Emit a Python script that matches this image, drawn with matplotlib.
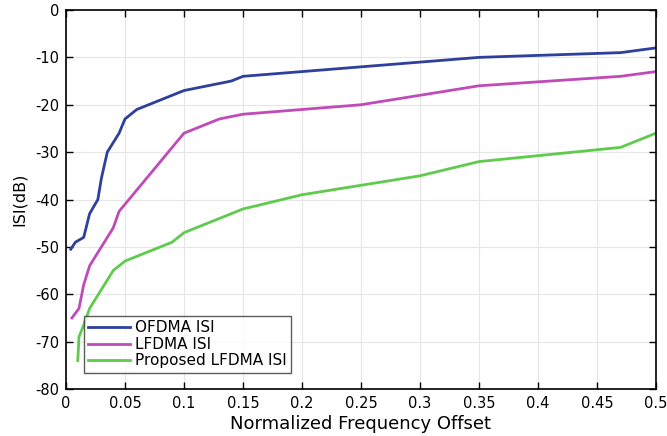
import matplotlib
matplotlib.use("Agg")
import matplotlib.pyplot as plt

plt.rcParams['font.family'] = ['DejaVu Sans']
plt.rcParams['axes.unicode_minus'] = False

ofdma_x = [0.004, 0.008, 0.015, 0.02, 0.027, 0.03, 0.035, 0.045, 0.05, 0.06, 0.1, 0.14, 0.15, 0.2, 0.25, 0.3, 0.35, 0.47, 0.5]
ofdma_y = [-50.5, -49, -48, -43, -40, -35.5, -30, -26, -23, -21, -17, -15, -14, -13, -12, -11, -10, -9, -8]

lfdma_x = [0.005, 0.011, 0.015, 0.02, 0.04, 0.045, 0.05, 0.1, 0.13, 0.15, 0.25, 0.3, 0.35, 0.47, 0.5]
lfdma_y = [-65, -63, -58, -54, -46, -42.5, -41, -26, -23, -22, -20, -18, -16, -14, -13]

prop_x = [0.01, 0.011, 0.015, 0.02, 0.04, 0.05, 0.09, 0.1, 0.15, 0.2, 0.3, 0.35, 0.47, 0.5]
prop_y = [-74, -69, -66.5, -63, -55, -53, -49, -47, -42, -39, -35, -32, -29, -26]

labels = ['OFDMA ISI', 'LFDMA ISI', 'Proposed LFDMA ISI']
colors = ['#2e3f9c', '#c04ab8', '#5fcb4c']
xticks = [0, 0.05, 0.1, 0.15, 0.2, 0.25, 0.3, 0.35, 0.4, 0.45, 0.5]
xticklabels = ['0', '0.05', '0.1', '0.15', '0.2', '0.25', '0.3', '0.35', '0.4', '0.45', '0.5']
yticks = list(range(-80, 1, 10))

fig = plt.figure(figsize=(6.67, 4.36), dpi=100)
ax = fig.add_axes([66/667, 1 - 389/436, 590/667, 379/436])

for xs, ys, lab, c in zip([ofdma_x, lfdma_x, prop_x], [ofdma_y, lfdma_y, prop_y], labels, colors):
    ax.plot(xs, ys, color=c, lw=2, label=lab)

ax.set_xlim(0, 0.5)
ax.set_ylim(-80, 0)
ax.set_xticks(xticks)
ax.set_xticklabels(xticklabels)
ax.set_yticks(yticks)
ax.grid(True, color='#e6e6e6', lw=0.8)
ax.set_axisbelow(True)
ax.tick_params(direction='in', top=True, right=True, length=5, width=1, labelsize=10.5, pad=5)
for s in ax.spines.values():
    s.set_linewidth(1.2)
ax.set_xlabel('Normalized Frequency Offset', fontsize=13, labelpad=3)
ax.set_ylabel('ISI(dB)', fontsize=11.5, labelpad=6)

leg = ax.legend(loc='lower left', bbox_to_anchor=(0.03, 0.042), fontsize=11, frameon=True,
                fancybox=False, edgecolor='#333333', handlelength=2.7, borderpad=0.3,
                labelspacing=0.1, handletextpad=0.35, borderaxespad=0.0)
leg.get_frame().set_linewidth(1.0)

fig.savefig('out.png', dpi=100)
